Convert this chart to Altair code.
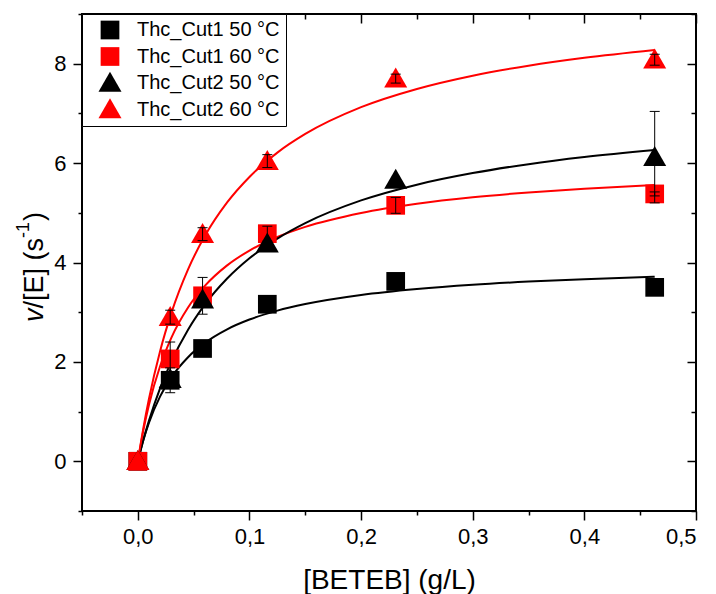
import altair as alt
import pandas as pd

FONT = "Liberation Sans"

series_names = ["Thc_Cut1 50 °C", "Thc_Cut1 60 °C", "Thc_Cut2 50 °C", "Thc_Cut2 60 °C"]
series_colors = ["#000000", "#ff0000", "#000000", "#ff0000"]
TRI = "M0,-1.2L1.23,0.94L-1.23,0.94Z"
series_shapes = ["square", "square", TRI, TRI]

# measured points
conc = [0.0, 0.029, 0.058, 0.116, 0.231, 0.463]
cut1_50_rate = [0.0, 1.63, 2.27, 3.16, 3.62, 3.50]
cut1_60_rate = [0.0, 2.06, 3.33, 4.58, 5.15, 5.38]
cut2_50_rate = [0.0, 1.65, 3.25, 4.38, 5.66, 6.12]
cut2_60_rate = [0.0, 2.90, 4.57, 6.04, 7.70, 8.08]
cut1_50_err = [0.0, 0.25, 0.0, 0.0, 0.0, 0.0]
cut1_60_err = [0.0, 0.34, 0.37, 0.15, 0.16, 0.04]
cut2_50_err = [0.0, 0.0, 0.0, 0.0, 0.0, 0.92]
cut2_60_err = [0.0, 0.14, 0.13, 0.13, 0.09, 0.11]

# fitted curves
curve_conc = [0.0, 0.005, 0.01, 0.02, 0.03, 0.045, 0.06, 0.08, 0.1, 0.125,
              0.15, 0.2, 0.25, 0.3, 0.35, 0.4, 0.463]
cut1_50_curve = [0.0, 0.431, 0.779, 1.306, 1.688, 2.095, 2.382, 2.656, 2.852, 3.031,
                 3.164, 3.347, 3.467, 3.553, 3.616, 3.665, 3.713]
cut1_60_curve = [0.0, 0.628, 1.139, 1.918, 2.485, 3.095, 3.528, 3.942, 4.240, 4.513,
                 4.716, 4.996, 5.181, 5.312, 5.409, 5.485, 5.559]
cut2_50_curve = [0.0, 0.433, 0.818, 1.472, 2.007, 2.649, 3.153, 3.677, 4.085, 4.482,
                 4.793, 5.249, 5.566, 5.799, 5.979, 6.121, 6.262]
cut2_60_curve = [0.0, 0.674, 1.259, 2.221, 2.981, 3.862, 4.531, 5.208, 5.721, 6.211,
                 6.586, 7.125, 7.492, 7.759, 7.961, 8.120, 8.278]

x_major = [0.0, 0.1, 0.2, 0.3, 0.4, 0.5]
x_minor = [-0.05, 0.05, 0.15, 0.25, 0.35, 0.45]
y_major = [0, 2, 4, 6, 8]
y_minor = [-1, 1, 3, 5, 7, 9]

x_title = "[BETEB] (g/L)"
y_title_parts = ["v", "/[E] (s", "-1", ")"]

rates = [cut1_50_rate, cut1_60_rate, cut2_50_rate, cut2_60_rate]
errs = [cut1_50_err, cut1_60_err, cut2_50_err, cut2_60_err]
curves = [cut1_50_curve, cut1_60_curve, cut2_50_curve, cut2_60_curve]

pts_rows, err_rows, cap_rows, curve_rows = [], [], [], []
for name, r, e, c in zip(series_names, rates, errs, curves):
    for xv, yv, ev in zip(conc, r, e):
        pts_rows.append({"series": name, "x": xv, "y": yv})
        if ev > 0:
            err_rows.append({"series": name, "x": xv, "lo": yv - ev, "hi": yv + ev})
            cap_rows.append({"series": name, "x": xv, "yc": yv - ev})
            cap_rows.append({"series": name, "x": xv, "yc": yv + ev})
    for xv, yv in zip(curve_conc, c):
        curve_rows.append({"series": name, "x": xv, "y": yv})

pts = pd.DataFrame(pts_rows)
errdf = pd.DataFrame(err_rows)
capdf = pd.DataFrame(cap_rows)
curvedf = pd.DataFrame(curve_rows)

xscale = alt.Scale(domain=[-0.05, 0.5], nice=False, zero=False)
yscale = alt.Scale(domain=[-1, 9], nice=False, zero=False)

lab_common = dict(domain=False, grid=False, tickColor="black", tickWidth=1.5,
                  labelColor="black", labelFont=FONT, labelFontSize=22,
                  titleFont=FONT, titleColor="black", titleFontWeight="normal")

ax_x_bottom = alt.Axis(orient="bottom", values=x_major, tickSize=9, labelPadding=6,
                       labelExpr="replace(format(datum.value, '.1f'), '.', ',')",
                       title=x_title, titleFontSize=28, titleY=77,
                       titleBaseline="alphabetic", **lab_common)
ax_x_bottom_minor = alt.Axis(orient="bottom", values=x_minor, tickSize=4, labels=False,
                             title=None, **lab_common)
ax_x_top = alt.Axis(orient="top", values=x_major, tickSize=9, offset=-9, labels=False,
                    title=None, **lab_common)
ax_x_top_minor = alt.Axis(orient="top", values=x_minor, tickSize=5, offset=-5, labels=False,
                          title=None, **lab_common)

ax_y_left = alt.Axis(orient="left", values=y_major, tickSize=9, labelPadding=7,
                     format="d", title=None, **lab_common)
ax_y_left_minor = alt.Axis(orient="left", values=y_minor, tickSize=4, labels=False,
                           title=None, **lab_common)
ax_y_right = alt.Axis(orient="right", values=y_major, tickSize=9, offset=-9, labels=False,
                      title=None, **lab_common)
ax_y_right_minor = alt.Axis(orient="right", values=y_minor, tickSize=5, offset=-5,
                            labels=False, title=None, **lab_common)

color_scale = alt.Scale(domain=series_names, range=series_colors)
shape_scale = alt.Scale(domain=series_names, range=series_shapes)

# one fitted line per series, fixed colour (no extra scale -> legend stays intact)
line_layers = []
for i, (name, col) in enumerate(zip(series_names, series_colors)):
    ax_x = ax_x_bottom if i == 0 else None
    ax_y = ax_y_left if i == 0 else None
    line_layers.append(
        alt.Chart(curvedf).transform_filter(alt.datum.series == name)
        .mark_line(strokeWidth=2, interpolate="monotone", color=col)
        .encode(
            x=alt.X("x:Q", scale=xscale, axis=ax_x),
            y=alt.Y("y:Q", scale=yscale, axis=ax_y),
        )
    )

legend = alt.Legend(title=None, orient="top-left", offset=0, padding=6,
                    strokeColor="black", fillColor="white", labelFont=FONT,
                    labelFontSize=20, labelColor="black", symbolOffset=12,
                    labelOffset=17, rowPadding=4.5, gridAlign="all",
                    symbolStrokeWidth=0, symbolSize=350, symbolOpacity=1)

points = alt.Chart(pts).mark_point(filled=True, opacity=1, size=350).encode(
    x=alt.X("x:Q", scale=xscale, axis=ax_x_top_minor),
    y=alt.Y("y:Q", scale=yscale, axis=ax_y_right_minor),
    color=alt.Color("series:N", scale=color_scale, legend=legend),
    shape=alt.Shape("series:N", scale=shape_scale, legend=legend),
)

bars = alt.Chart(errdf).mark_rule(color="black", strokeWidth=1).encode(
    x=alt.X("x:Q", scale=xscale, axis=ax_x_bottom_minor),
    y=alt.Y("lo:Q", scale=yscale, axis=ax_y_left_minor),
    y2="hi:Q",
)

caps = alt.Chart(capdf).mark_tick(orient="horizontal", size=10, thickness=1,
                                  color="black", opacity=1).encode(
    x=alt.X("x:Q", scale=xscale, axis=ax_x_top),
    y=alt.Y("yc:Q", scale=yscale, axis=ax_y_right),
)

# rotated y-axis title with italic v and a raised -1
title_specs = [
    # text, font size, italic, baseline x, start y
    (y_title_parts[0], 27, True, -39, 308),
    (y_title_parts[1], 27, False, -39, 294.5),
    (y_title_parts[2], 18, False, -53, 224),
    (y_title_parts[3], 27, False, -39, 207),
]
title_layers = []
for txt, fs, ital, bx, sy in title_specs:
    title_layers.append(
        alt.Chart(pd.DataFrame({"t": [txt]})).mark_text(
            angle=270, align="left", baseline="alphabetic", font=FONT,
            fontSize=fs, fontStyle="italic" if ital else "normal", color="black"
        ).encode(text="t:N", x=alt.value(bx), y=alt.value(sy))
    )

chart = alt.layer(*line_layers, points, bars, caps, *title_layers).resolve_axis(
    x="independent", y="independent"
).properties(
    width=614, height=497,
    autosize=alt.AutoSizeParams(type="none"),
    padding={"left": 82, "top": 14, "right": 20, "bottom": 83},
).configure(
    font=FONT, background="white"
).configure_view(
    stroke="black", strokeWidth=2
)

chart.save("out.html", embed_options={"renderer": "svg", "actions": False})
